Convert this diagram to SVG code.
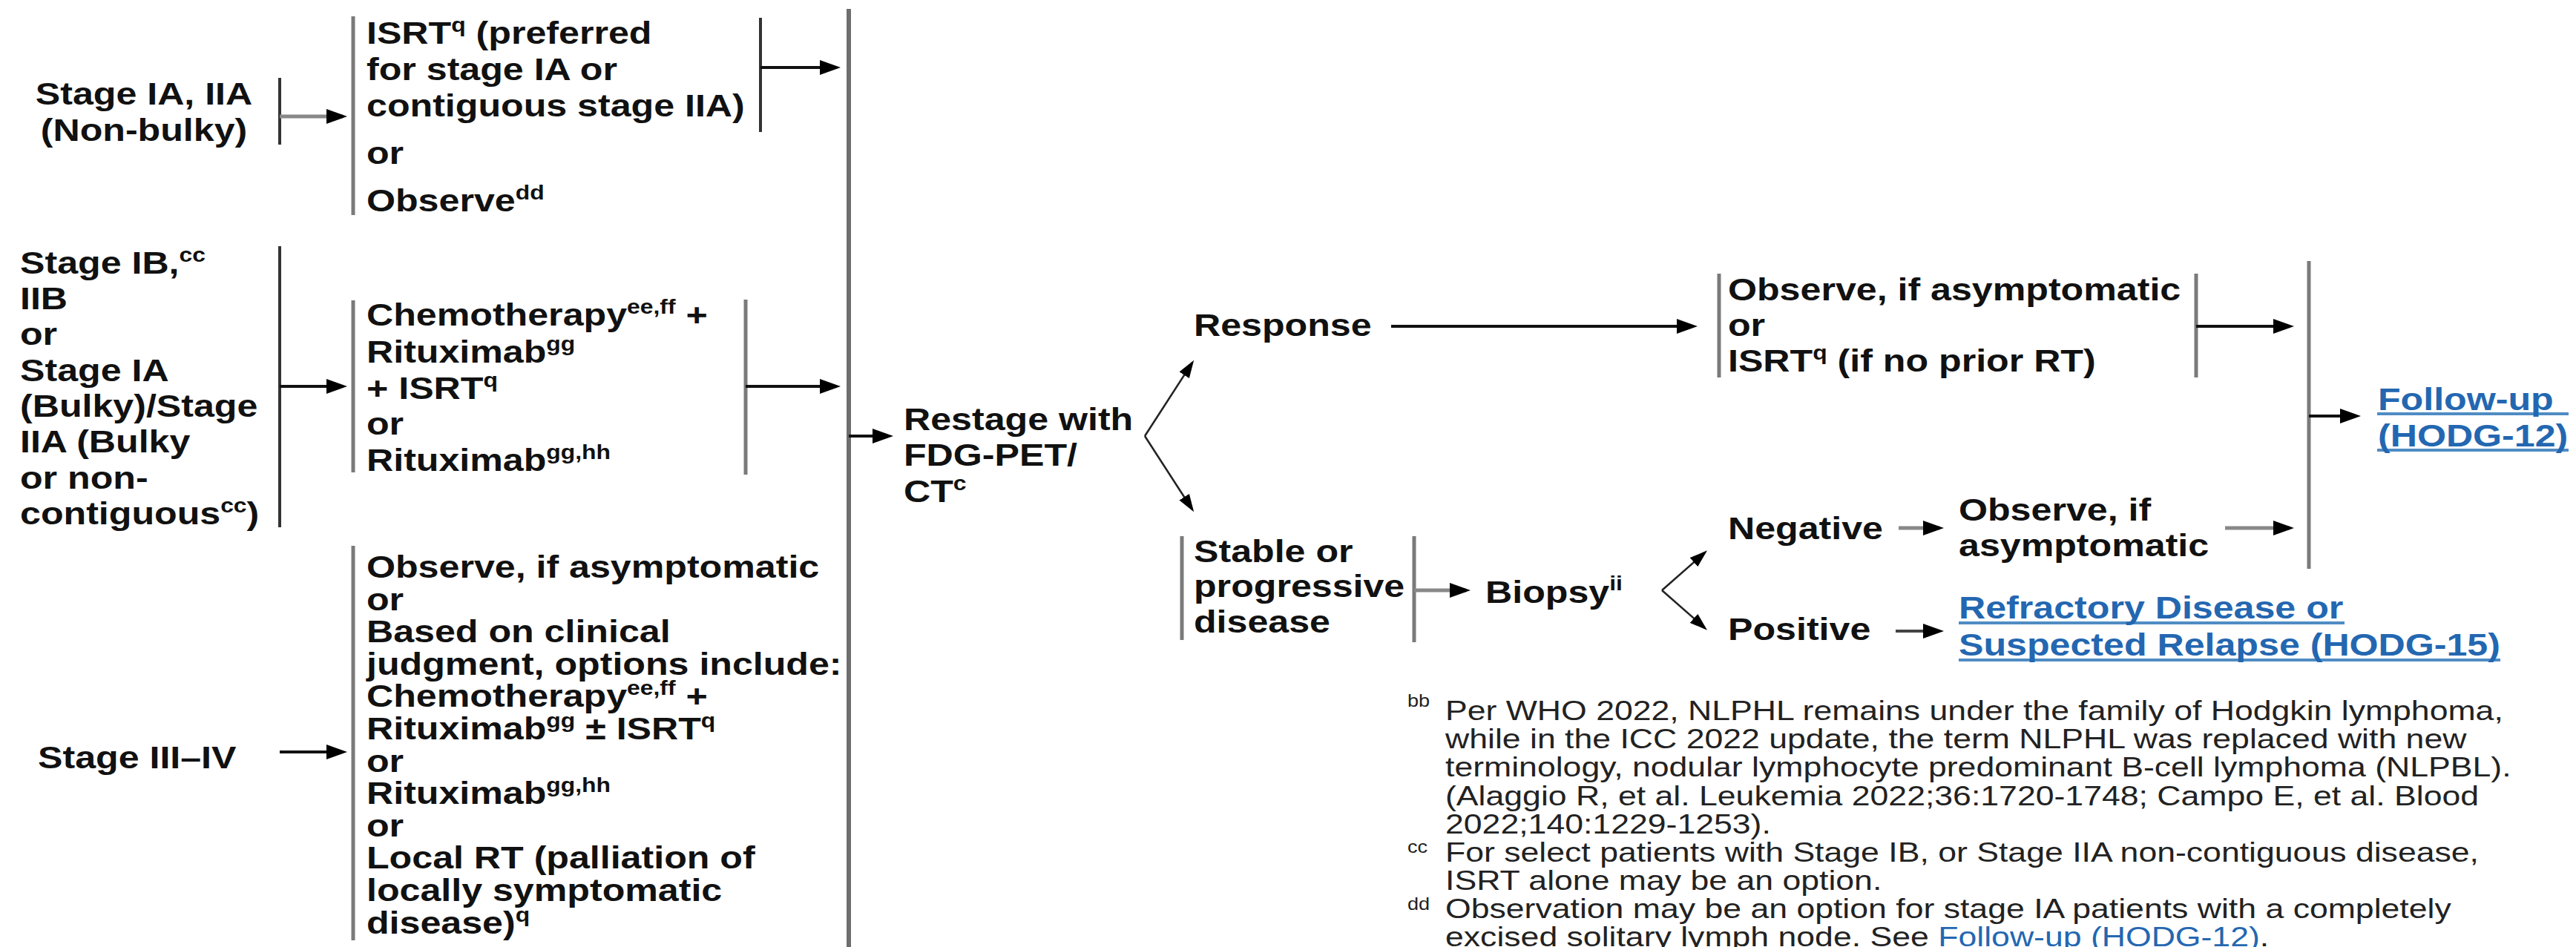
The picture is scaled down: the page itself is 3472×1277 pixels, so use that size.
<svg xmlns="http://www.w3.org/2000/svg" width="3472" height="1277" viewBox="0 0 3472 1277">
<defs>
<style>
.t{font-family:"Liberation Sans",Arial,sans-serif;font-weight:bold;font-size:42.5px;fill:#111}
.fn{font-family:"Liberation Sans",Arial,sans-serif;font-weight:normal;font-size:37.8px;fill:#222}
.lab{font-size:23px}
.sup{font-size:27px}
.lnk{fill:#2467b1}
.ul{stroke:#4f8cc4;stroke-width:4}
.bar{stroke:#7a7a7a;stroke-width:5;fill:none}
.bard{stroke:#333;stroke-width:4;fill:none}
.arr{stroke:#111;stroke-width:4;fill:none}
.arrg{stroke:#888;stroke-width:5;fill:none}
.spl{stroke:#222;stroke-width:2.5;fill:none}
</style>
<marker id="ah" markerWidth="28" markerHeight="20" refX="22" refY="10" orient="auto" markerUnits="userSpaceOnUse"><path d="M0,0 L28,10 L0,20 z" fill="#000"/></marker>
<marker id="ahs" markerWidth="24" markerHeight="16" refX="20" refY="8" orient="auto" markerUnits="userSpaceOnUse"><path d="M0,0 L24,8 L0,16 z" fill="#000"/></marker>
</defs>
<rect width="3472" height="1277" fill="#fff"/>

<g id="connectors">
<line class="bard" x1="377" y1="105" x2="377" y2="195"/>
<line class="bar" x1="476" y1="22" x2="476" y2="290"/>
<line class="bard" x1="1025" y1="24" x2="1025" y2="178"/>
<line class="bar" x1="1144" y1="12" x2="1144" y2="1277" style="stroke:#6e6e6e;stroke-width:6"/>
<line class="bard" x1="377" y1="332" x2="377" y2="711"/>
<line class="bar" x1="476" y1="405" x2="476" y2="637"/>
<line class="bar" x1="1005" y1="404" x2="1005" y2="640"/>
<line class="bar" x1="476" y1="736" x2="476" y2="1268"/>
<line class="bar" x1="2317" y1="369" x2="2317" y2="509"/>
<line class="bar" x1="2960" y1="369" x2="2960" y2="509"/>
<line class="bar" x1="3112" y1="352" x2="3112" y2="767"/>
<line class="bar" x1="1593" y1="723" x2="1593" y2="863"/>
<line class="bar" x1="1906" y1="723" x2="1906" y2="866"/>

<line class="arrg" x1="377" y1="157" x2="462" y2="157" marker-end="url(#ah)"/>
<line class="arr" x1="1025" y1="91" x2="1127" y2="91" marker-end="url(#ah)"/>
<line class="arr" x1="377" y1="521" x2="462" y2="521" marker-end="url(#ah)"/>
<line class="arr" x1="1005" y1="521" x2="1127" y2="521" marker-end="url(#ah)"/>
<line class="arr" x1="1144" y1="588" x2="1198" y2="588" marker-end="url(#ah)"/>
<line class="arr" x1="377" y1="1014" x2="462" y2="1014" marker-end="url(#ah)"/>
<line class="spl" x1="1543" y1="588" x2="1607" y2="489" marker-end="url(#ahs)"/>
<line class="spl" x1="1543" y1="588" x2="1607" y2="687" marker-end="url(#ahs)"/>
<line class="arr" x1="1875" y1="440" x2="2282" y2="440" marker-end="url(#ah)"/>
<line class="arr" x1="2960" y1="440" x2="3086" y2="440" marker-end="url(#ah)"/>
<line class="arr" x1="3112" y1="561" x2="3176" y2="561" marker-end="url(#ah)"/>
<line class="arrg" x1="1906" y1="796" x2="1976" y2="796" marker-end="url(#ah)"/>
<line class="spl" x1="2240" y1="796" x2="2298" y2="745" marker-end="url(#ahs)"/>
<line class="spl" x1="2240" y1="796" x2="2298" y2="847" marker-end="url(#ahs)"/>
<line class="arrg" x1="2559" y1="712" x2="2614" y2="712" marker-end="url(#ah)"/>
<line class="arrg" x1="2999" y1="712" x2="3086" y2="712" marker-end="url(#ah)"/>
<line class="arr" x1="2555" y1="851" x2="2614" y2="851" marker-end="url(#ah)" style="stroke:#444"/>
</g>

<g id="n-stage-ia" transform="translate(194,0) scale(1.18,1)">
<text class="t" x="0" y="141" text-anchor="middle">Stage IA, IIA</text>
<text class="t" x="0" y="190" text-anchor="middle">(Non-bulky)</text>
</g>

<g id="n-isrt" transform="translate(494,0) scale(1.18,1)">
<text class="t" x="0" y="59">ISRT<tspan class="sup" dy="-16">q</tspan><tspan dy="16"> (preferred</tspan></text>
<text class="t" x="0" y="108">for stage IA or</text>
<text class="t" x="0" y="157">contiguous stage IIA)</text>
<text class="t" x="0" y="221">or</text>
<text class="t" x="0" y="285">Observe<tspan class="sup" dy="-16">dd</tspan></text>
</g>

<g id="n-stage-ib" transform="translate(27,0) scale(1.18,1)">
<text class="t" x="0" y="369">Stage IB,<tspan class="sup" dy="-16">cc</tspan></text>
<text class="t" x="0" y="417">IIB</text>
<text class="t" x="0" y="465">or</text>
<text class="t" x="0" y="514">Stage IA</text>
<text class="t" x="0" y="562">(Bulky)/Stage</text>
<text class="t" x="0" y="610">IIA (Bulky</text>
<text class="t" x="0" y="659">or non-</text>
<text class="t" x="0" y="707">contiguous<tspan class="sup" dy="-16">cc</tspan><tspan dy="16">)</tspan></text>
</g>

<g id="n-chemo" transform="translate(494,0) scale(1.18,1)">
<text class="t" x="0" y="439">Chemotherapy<tspan class="sup" dy="-16">ee,ff</tspan><tspan dy="16"> +</tspan></text>
<text class="t" x="0" y="489">Rituximab<tspan class="sup" dy="-16">gg</tspan></text>
<text class="t" x="0" y="538">+ ISRT<tspan class="sup" dy="-16">q</tspan></text>
<text class="t" x="0" y="586">or</text>
<text class="t" x="0" y="635">Rituximab<tspan class="sup" dy="-16">gg,hh</tspan></text>
</g>

<g id="n-stage-iii" transform="translate(51,0) scale(1.18,1)">
<text class="t" x="0" y="1036">Stage III–IV</text>
</g>

<g id="n-iii-options" transform="translate(494,0) scale(1.18,1)">
<text class="t" x="0" y="779">Observe, if asymptomatic</text>
<text class="t" x="0" y="823">or</text>
<text class="t" x="0" y="866">Based on clinical</text>
<text class="t" x="0" y="910">judgment, options include:</text>
<text class="t" x="0" y="953">Chemotherapy<tspan class="sup" dy="-16">ee,ff</tspan><tspan dy="16"> +</tspan></text>
<text class="t" x="0" y="997">Rituximab<tspan class="sup" dy="-16">gg</tspan><tspan dy="16"> ± ISRT</tspan><tspan class="sup" dy="-16">q</tspan></text>
<text class="t" x="0" y="1041">or</text>
<text class="t" x="0" y="1084">Rituximab<tspan class="sup" dy="-16">gg,hh</tspan></text>
<text class="t" x="0" y="1128">or</text>
<text class="t" x="0" y="1171">Local RT (palliation of</text>
<text class="t" x="0" y="1215">locally symptomatic</text>
<text class="t" x="0" y="1259">disease)<tspan class="sup" dy="-16">q</tspan></text>
</g>

<g id="n-restage" transform="translate(1218,0) scale(1.18,1)">
<text class="t" x="0" y="580">Restage with</text>
<text class="t" x="0" y="628">FDG-PET/</text>
<text class="t" x="0" y="677">CT<tspan class="sup" dy="-16">c</tspan></text>
</g>

<g id="n-response" transform="translate(1609,0) scale(1.18,1)">
<text class="t" x="0" y="453">Response</text>
</g>

<g id="n-resp-options" transform="translate(2329,0) scale(1.18,1)">
<text class="t" x="0" y="405">Observe, if asymptomatic</text>
<text class="t" x="0" y="453">or</text>
<text class="t" x="0" y="501">ISRT<tspan class="sup" dy="-16">q</tspan><tspan dy="16"> (if no prior RT)</tspan></text>
</g>

<g id="n-stable" transform="translate(1609,0) scale(1.18,1)">
<text class="t" x="0" y="758">Stable or</text>
<text class="t" x="0" y="805">progressive</text>
<text class="t" x="0" y="853">disease</text>
</g>

<g id="n-biopsy" transform="translate(2002,0) scale(1.18,1)">
<text class="t" x="0" y="813">Biopsy<tspan class="sup" dy="-17">ii</tspan></text>
</g>

<g id="n-negative" transform="translate(2329,0) scale(1.18,1)">
<text class="t" x="0" y="727">Negative</text>
</g>

<g id="n-observe-neg" transform="translate(2640,0) scale(1.18,1)">
<text class="t" x="0" y="702">Observe, if</text>
<text class="t" x="0" y="750">asymptomatic</text>
</g>

<g id="n-positive" transform="translate(2329,0) scale(1.18,1)">
<text class="t" x="0" y="863">Positive</text>
</g>

<g id="n-refractory">
<line class="ul" x1="2640" y1="840" x2="3160" y2="840"/>
<line class="ul" x1="2640" y1="890" x2="3370" y2="890"/>
<g transform="translate(2640,0) scale(1.18,1)">
<text class="t lnk" x="0" y="834">Refractory Disease or</text>
<text class="t lnk" x="0" y="884">Suspected Relapse (HODG-15)</text>
</g>
</g>

<g id="n-followup">
<line class="ul" x1="3204" y1="558" x2="3462" y2="558"/>
<line class="ul" x1="3204" y1="607" x2="3462" y2="607"/>
<g transform="translate(3205,0) scale(1.18,1)">
<text class="t lnk" x="0" y="553">Follow-up </text>
<text class="t lnk" x="0" y="602">(HODG-12)</text>
</g>
</g>

<g id="footnotes">
<g transform="translate(1897,0) scale(1.18,1)">
<text class="fn lab" x="0" y="953">bb</text>
<text class="fn lab" x="0" y="1150">cc</text>
<text class="fn lab" x="0" y="1227">dd</text>
</g>
<g transform="translate(1948,0) scale(1.18,1)">
<text class="fn" x="0" y="971">Per WHO 2022, NLPHL remains under the family of Hodgkin lymphoma,</text>
<text class="fn" x="0" y="1009">while in the ICC 2022 update, the term NLPHL was replaced with new</text>
<text class="fn" x="0" y="1047">terminology, nodular lymphocyte predominant B-cell lymphoma (NLPBL).</text>
<text class="fn" x="0" y="1086">(Alaggio R, et al. Leukemia 2022;36:1720-1748; Campo E, et al. Blood</text>
<text class="fn" x="0" y="1124">2022;140:1229-1253).</text>
<text class="fn" x="0" y="1162">For select patients with Stage IB, or Stage IIA non-contiguous disease,</text>
<text class="fn" x="0" y="1200">ISRT alone may be an option.</text>
<text class="fn" x="0" y="1238">Observation may be an option for stage IA patients with a completely</text>
<text class="fn" x="0" y="1276">excised solitary lymph node. See <tspan class="lnk">Follow-up (HODG-12)</tspan>.</text>
</g>
</g>
</svg>
